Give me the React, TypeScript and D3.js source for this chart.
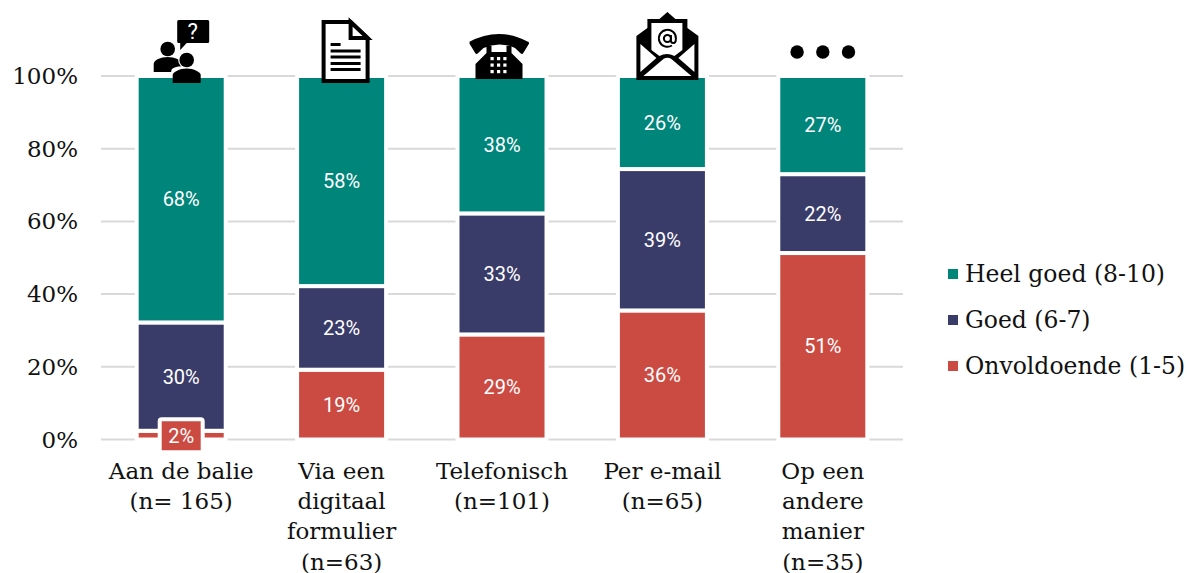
import { useRef, useEffect } from 'react';
import * as d3 from 'd3';

const width = 1189;
const height = 573;
const margin = { top: 76, right: 286, bottom: 133.5, left: 101 };
const serif = '"DejaVu Serif", serif';

const categories = ['Aan de balie', 'Via een digitaal formulier', 'Telefonisch', 'Per e-mail', 'Op een andere manier'];
const categoryLines = [
  ['Aan de balie', '(n= 165)'],
  ['Via een', 'digitaal', 'formulier', '(n=63)'],
  ['Telefonisch', '(n=101)'],
  ['Per e-mail', '(n=65)'],
  ['Op een', 'andere', 'manier', '(n=35)'],
];

const seriesNames = ['Onvoldoende (1-5)', 'Goed (6-7)', 'Heel goed (8-10)'];
const seriesColors = ['#cb4b43', '#393b69', '#00857a'];
const onvoldoende = [2.4, 19.2, 28.9, 35.5, 51.3];
const goed = [29.8, 23, 33.3, 38.9, 21.7];
const heelGoed = [67.8, 57.8, 37.8, 25.6, 27];
const legendOrder = [2, 1, 0];
const yTicks = [0, 20, 40, 60, 80, 100];

const x = d3.scaleBand<string>()
  .domain(categories)
  .range([margin.left, width - margin.right])
  .paddingInner(0.445)
  .paddingOuter(0.2225);

const y = d3.scaleLinear()
  .domain([0, 100])
  .range([height - margin.bottom, margin.top]);

const center = (i: number) => (x(categories[i]) as number) + x.bandwidth() / 2;

// little pictures above the bars, drawn around the centre of their bar
const People = () => (
  <g transform={`translate(${center(0)},0)`}>
    <path d="M-4 21.500a1.500 1.500 0 0 1 1.500-1.500h29a1.500 1.500 0 0 1 1.500 1.500v20a1.500 1.500 0 0 1-1.500 1.500h-21l-6.500 7v-7h-1.500a1.500 1.500 0 0 1-1.500-1.500z" fill="#000" />
    <text x="11.500" y="39" fontFamily="Roboto" fontSize="22" fill="#fff" textAnchor="middle">?</text>
    <circle cx="-13.500" cy="49" r="7.300" fill="#000" />
    <path d="M-27.500 72v-8c0-4 7-7 14-7s14 3 14 7v8z" fill="#000" />
    <circle cx="5.500" cy="60" r="8.500" fill="#fff" />
    <path d="M-10 72v-1c0-4 8-5 15.500-5s15.500 1 15.500 5v1z" fill="#fff" />
    <circle cx="5.500" cy="60" r="7.300" fill="#000" />
    <path d="M-8.500 83v-8c0-3 7-6.500 14-6.500s14 3.500 14 6.500v8z" fill="#000" />
  </g>
);

const Document = () => (
  <g transform={`translate(${center(1)},0)`}>
    <path d="M-18 22h27l17 16v43h-44z" fill="#fff" stroke="#000" strokeWidth="4" />
    <path d="M9 22v16h17z" fill="#fff" stroke="#000" strokeWidth="4" />
    <path d="M-11 44.500h10M-11 51h30M-11 57h30M-11 63.500h30M-11 69.500h30" stroke="#000" strokeWidth="3" />
  </g>
);

const Phone = () => (
  <g transform={`translate(${center(2)},0)`}>
    <path d="M-33 42q30-16 59.500 0q1 .8 .3 2l-5.500 9q-1 1.500-2.500 .5l-5.800-5.500q-15.500-7-31.500 0l-5.800 5.500q-1.500 1-2.500-.5l-5.500-9q-.7-1.200 .3-2z" fill="#000" />
    <path d="M-15.500 46h5v6h15v-6h5v7l11 11v15h-47v-15l11-11z" fill="#000" />
    <g fill="#fff">
      {[-11.500, -5, 1.300].map(dx => [57, 63.500, 70].map(dy => (
        <rect key={`${dx}-${dy}`} x={dx} y={dy} width="3.200" height="3.200" />
      )))}
    </g>
  </g>
);

const Envelope = () => (
  <g transform={`translate(${center(3)},0)`}>
    <path d="M-26 36l11-8v-9h12l8-7 8 7h12v9l11 8v44h-62z" fill="#000" />
    <path d="M-11 23h31v27l-8 6q-7.500-4-15 0l-8-6z" fill="#fff" />
    <path d="M-22 44v28l16-14zM32 44v28l-16-14z" fill="#fff" />
    <path d="M-19 76l20-17q4-2.500 8 0l20 17z" fill="#fff" />
    <circle cx="5" cy="38.500" r="3.500" fill="none" stroke="#000" strokeWidth="2" />
    <path d="M8.500 35v5.500q0 2.500 2.500 2.500t2.500-4.500a8.500 8.500 0 1 0-4 7" fill="none" stroke="#000" strokeWidth="2" />
  </g>
);

const Dots = () => (
  <g transform={`translate(${center(4)},52)`}>
    {[-1, 0, 1].map(k => <circle key={k} cx={k * 25.700} cy="0" r="6.700" fill="#000" />)}
  </g>
);

export default function App() {
  const chartRef = useRef<SVGGElement>(null);

  useEffect(() => {
    const g = d3.select(chartRef.current);
    g.selectAll('*').remove();

    // gridlines
    g.append('g')
      .selectAll('line')
      .data(yTicks)
      .join('line')
      .attr('x1', margin.left)
      .attr('x2', width - margin.right)
      .attr('y1', d => y(d))
      .attr('y2', d => y(d))
      .attr('stroke', '#d9d9d9')
      .attr('stroke-width', 2);

    g.append('g')
      .selectAll('text')
      .data(yTicks)
      .join('text')
      .attr('x', 78)
      .attr('y', d => y(d))
      .attr('dy', '0.35em')
      .attr('text-anchor', 'end')
      .attr('font-family', serif)
      .attr('font-size', 23)
      .attr('fill', '#111')
      .text(d => `${d}%`);

    const table = categories.map((c, i) => ({ c, s0: onvoldoende[i], s1: goed[i], s2: heelGoed[i] }));
    const stacked = d3.stack<any>().keys(['s0', 's1', 's2'])(table);

    stacked.forEach((layer, s) => {
      g.append('g')
        .selectAll('rect')
        .data(layer)
        .join('rect')
        .attr('x', d => x(d.data.c) as number)
        .attr('width', x.bandwidth())
        .attr('y', d => y(d[1]))
        .attr('height', d => y(d[0]) - y(d[1]))
        .attr('fill', seriesColors[s])
        .attr('stroke', '#fff')
        .attr('stroke-width', 4);
    });

    // value labels, the small 2% one gets its own box
    stacked.forEach((layer, s) => {
      const labels = g.append('g');
      layer.forEach(d => {
        const cx = (x(d.data.c) as number) + x.bandwidth() / 2;
        const cy = (y(d[0]) + y(d[1])) / 2;
        const value = Math.round(d[1] - d[0]);
        if (value < 5) {
          labels.append('rect')
            .attr('x', cx - 21.500)
            .attr('y', cy - 16)
            .attr('width', 43)
            .attr('height', 33)
            .attr('rx', 2)
            .attr('fill', seriesColors[s])
            .attr('stroke', '#fff')
            .attr('stroke-width', 4);
        }
        labels.append('text')
          .attr('x', cx)
          .attr('y', cy + (value < 5 ? 0.500 : 0))
          .attr('dy', '0.35em')
          .attr('text-anchor', 'middle')
          .attr('font-family', 'Roboto')
          .attr('font-size', 20)
          .attr('fill', '#fff')
          .text(`${value}%`);
      });
    });

    // category labels
    const cats = g.append('g')
      .selectAll('text')
      .data(categoryLines)
      .join('text')
      .attr('text-anchor', 'middle')
      .attr('font-family', serif)
      .attr('font-size', 23)
      .attr('fill', '#111');

    cats.each(function (lines, i) {
      d3.select(this)
        .selectAll('tspan')
        .data(lines)
        .join('tspan')
        .attr('x', center(i))
        .attr('y', (_, k) => 478.500 + k * 30.400)
        .text(d => d);
    });

    // legend
    const legend = g.append('g')
      .selectAll('g')
      .data(legendOrder)
      .join('g')
      .attr('transform', (_, i) => `translate(948,${274 + i * 46})`);

    legend.append('rect')
      .attr('y', -5)
      .attr('width', 10)
      .attr('height', 10)
      .attr('fill', d => seriesColors[d]);

    legend.append('text')
      .attr('x', 17)
      .attr('dy', '0.35em')
      .attr('font-family', serif)
      .attr('font-size', 23.500)
      .attr('fill', '#111')
      .text(d => seriesNames[d]);
  }, []);

  return (
    <svg
      width={width}
      height={height}
      style={{ position: 'fixed', left: 0, top: 0, background: '#fff' }}
    >
      <g ref={chartRef} />
      <People />
      <Document />
      <Phone />
      <Envelope />
      <Dots />
    </svg>
  );
}
